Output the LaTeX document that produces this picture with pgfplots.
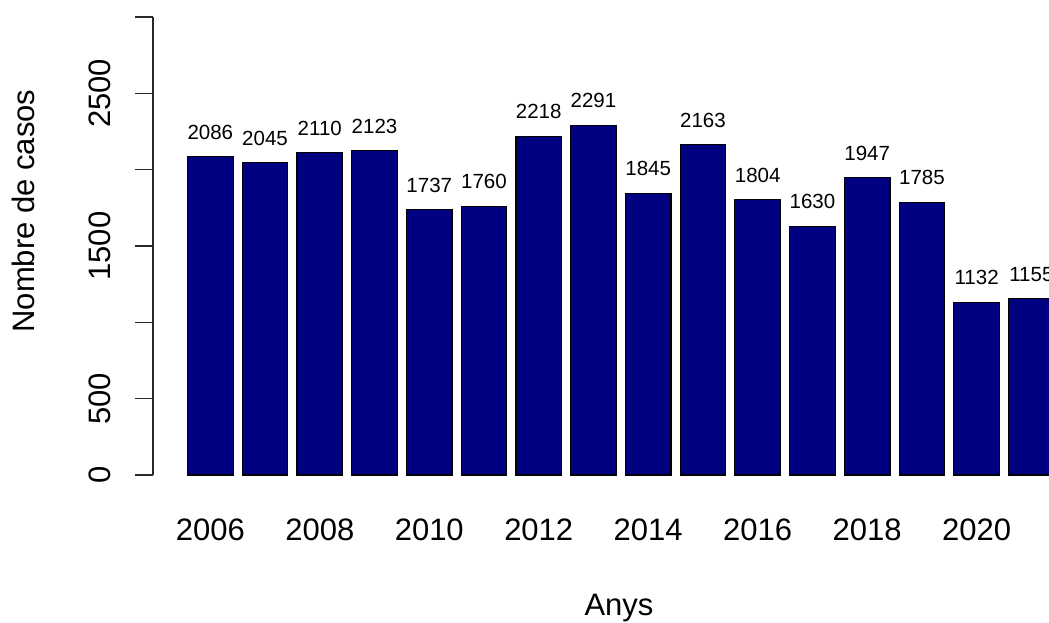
\documentclass[border=0pt]{standalone}
\usepackage{fontspec}
\setmainfont{Liberation Sans}
\usepackage{pgfplots}
\pgfplotsset{compat=1.18}
\definecolor{barnavy}{RGB}{0,0,128}
\definecolor{axcol}{RGB}{40,40,40}
\begin{document}
\begin{tikzpicture}[x=1pt,y=1pt]
\path[use as bounding box] (0,0) rectangle (1049,622);
\begin{axis}[
  at={(153pt,147pt)}, anchor=south west,
  scale only axis, width=896pt, height=458pt,
  xmin=2004.953, xmax=2021.322, ymin=0, ymax=3000,
  axis lines*=left,
  x axis line style={draw=none},
  y axis line style={line width=1.5pt, draw=axcol},
  xtick={2006,2008,2010,2012,2014,2016,2018,2020},
  xticklabels={2006,2008,2010,2012,2014,2016,2018,2020},
  xtick style={draw=none},
  xticklabel style={font=\fontsize{31}{31}\selectfont, anchor=base, inner sep=0pt, yshift=-47pt},
  ytick={0,500,1000,1500,2000,2500,3000},
  yticklabels={0,500,,1500,,2500,},
  tick align=outside, major tick length=18pt,
  ytick style={line width=1.5pt, draw=axcol},
  yticklabel style={font=\fontsize{31}{31}\selectfont, rotate=90, anchor=base, inner sep=0pt, yshift=25pt},
  ybar, bar width=0.8333,
  point meta=explicit symbolic,
  nodes near coords,
  nodes near coords style={font=\fontsize{20.5}{20.5}\selectfont, anchor=base, inner sep=0pt, yshift=17.5pt, text=black},
]
\addplot[fill=barnavy, draw=black, line width=1.2pt] coordinates {
  (2006,2086) [2086]
  (2007,2045) [2045]
  (2008,2110) [2110]
  (2009,2123) [2123]
  (2010,1737) [1737]
  (2011,1760) [1760]
  (2012,2218) [2218]
  (2013,2291) [2291]
  (2014,1845) [1845]
  (2015,2163) [2163]
  (2016,1804) [1804]
  (2017,1630) [1630]
  (2018,1947) [1947]
  (2019,1785) [1785]
  (2020,1132) [1132]
  (2021,1155) [1155]
};
\end{axis}
\node[font=\fontsize{31}{31}\selectfont, anchor=base, inner sep=0pt] at (619,7) {Anys};
\node[font=\fontsize{31}{31}\selectfont, rotate=90, anchor=base, inner sep=0pt] at (35,411) {Nombre de casos};
\end{tikzpicture}
\end{document}
